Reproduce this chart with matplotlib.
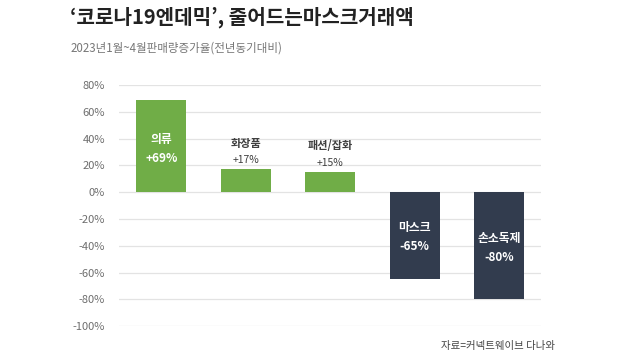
# 2023 1~4월 판매량 증가율 막대 차트
import matplotlib
matplotlib.use("Agg")
import matplotlib.pyplot as plt

plt.rcParams['font.family'] = ['Noto Sans CJK KR', 'DejaVu Sans']

categories = ["의류", "화장품", "패션/잡화", "마스크", "손소독제"]
values = [69, 17, 15, -65, -80]
value_labels = ["+69%", "+17%", "+15%", "-65%", "-80%"]
yticks = [80, 60, 40, 20, 0, -20, -40, -60, -80, -100]

green = "#70AD47"
navy = "#323C4E"

fig = plt.figure(figsize=(6.2, 3.6), dpi=100)
ax = fig.add_axes([0.192, 0.094, 0.681, 0.670])

x = list(range(len(values)))
colors = [green if v > 0 else navy for v in values]
ax.bar(x, values, width=0.59, color=colors, zorder=3)

ax.set_xlim(-0.5, 4.5)
ax.set_ylim(-100, 80)
ax.set_yticks(yticks)
ax.set_yticklabels([f"{t}%" for t in yticks], fontsize=8, color="#6E6E6E")
ax.tick_params(axis='y', length=0, pad=10)
ax.set_xticks([])
ax.grid(axis='y', color="#E3E3E3", linewidth=0.9, zorder=0)
for s in ax.spines.values():
    s.set_visible(False)

# 막대 안/위 라벨 (오프셋은 값 단위)
name_off = [-30, 19.5, 20, 38.5, 45.5]
val_off = [-44, 7, 6.7, 24.5, 31.5]
for i, (c, v, lab) in enumerate(zip(categories, values, value_labels)):
    inside = v > 50 or v < 0
    col = 'white' if inside else '#3F3F3F'
    ax.text(i, v + name_off[i], c, ha='center', va='center', color=col,
            fontsize=8.5 if inside else 8, fontweight='bold')
    ax.text(i, v + val_off[i], lab, ha='center', va='center', color=col,
            fontsize=8.5 if inside else 7.5, fontweight='bold' if inside else 'normal')

fig.text(0.113, 0.952, "‘코로나19엔데믹’, 줄어드는마스크거래액", fontsize=14.5, fontweight='bold',
         color='#222222', va='center', ha='left')
fig.text(0.113, 0.867, "2023년1월~4월판매량증가율(전년동기대비)", fontsize=8.3,
         color='#777777', va='center', ha='left')
fig.text(0.711, 0.039, "자료=커넥트웨이브 다나와", fontsize=7.5,
         color='#444444', va='center', ha='left')

fig.savefig("out.png", dpi=100)
